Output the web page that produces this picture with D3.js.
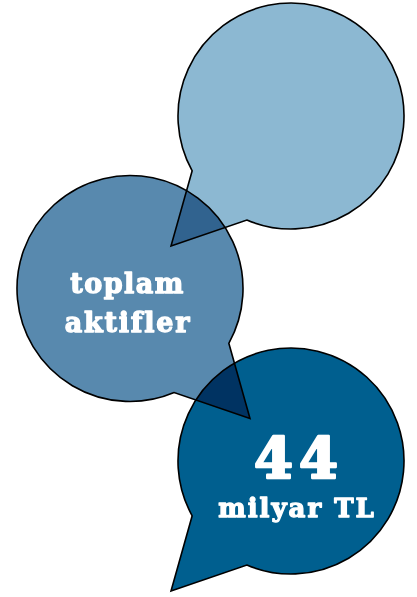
<!DOCTYPE html>
<html>
<head>
<meta charset="utf-8">
<script src="https://cdn.jsdelivr.net/npm/d3@7"></script>
<style>
  body { margin: 0; background: #fff; }
  svg { display: block; }
  .bubble { mix-blend-mode: multiply; }
</style>
</head>
<body>
<div id="chart"></div>
<script>
// data
var bubbleIds = ["b1", "b2", "b3"];
var bubbleSides = ["left", "right", "left"];   // tail direction
var bubbleLines = [[], ["toplam", "aktifler"], ["44", "milyar TL"]];
var colors = ["#8cb8d2", "#5889ae", "#005f8f"];

var width = 417, height = 597;
var radius = 113;

var svg = d3.select("#chart")
    .append("svg")
    .attr("width", width)
    .attr("height", height);

// positions from scales
var y = d3.scaleLinear().domain([0, bubbleIds.length - 1]).range([116, 461]);
var x = d3.scaleOrdinal().domain(["left", "right"]).range([291, 130]);

var rad = Math.PI / 180;

function bubblePath(side) {
    var p = d3.path();
    if (side === "left") {
        p.moveTo(-120, 130);
        p.lineTo(radius * Math.cos(113 * rad), radius * Math.sin(113 * rad));
        p.arc(0, 0, radius, 113 * rad, 151 * rad, true);
    } else {
        p.moveTo(120, 130);
        p.lineTo(radius * Math.cos(67 * rad), radius * Math.sin(67 * rad));
        p.arc(0, 0, radius, 67 * rad, 29 * rad, false);
    }
    p.closePath();
    return p.toString();
}

var g = svg.selectAll("g.b")
    .data(bubbleIds)
    .enter()
    .append("g")
    .attr("class", "bubble")
    .attr("transform", function(d, i) { return "translate(" + x(bubbleSides[i]) + "," + y(i) + ")"; });

g.append("path")
    .attr("d", function(d, i) { return bubblePath(bubbleSides[i]); })
    .attr("fill", function(d, i) { return colors[i]; })
    .attr("stroke", "#000")
    .attr("stroke-width", 1.6)
    .attr("stroke-linejoin", "miter");

// labels (drawn on top, no blending)
var lbl = svg.selectAll("g.lbl")
    .data(bubbleIds)
    .enter()
    .append("g")
    .attr("transform", function(d, i) { return "translate(" + x(bubbleSides[i]) + "," + y(i) + ")"; });

lbl.each(function(d, i) {
    var lines = bubbleLines[i];
    var sel = d3.select(this);
    if (i === 1) {
        sel.append("text").text(lines[0])
            .attr("x", -2.5).attr("y", 4.5)
            .attr("font-size", 27)
            .attr("letter-spacing", 1.5);
        sel.append("text").text(lines[1])
            .attr("x", -2).attr("y", 43.5)
            .attr("font-size", 27)
            .attr("letter-spacing", 1.8);
    } else if (i === 2) {
        sel.append("text").text(lines[0])
            .attr("x", 8).attr("y", 17)
            .attr("font-size", 56)
            .attr("letter-spacing", 6)
            .attr("stroke-width", 2.5);
        sel.append("text").text(lines[1])
            .attr("x", 6).attr("y", 56)
            .attr("font-size", 26)
            .attr("letter-spacing", 2);
    }
});

lbl.selectAll("text")
    .attr("text-anchor", "middle")
    .attr("fill", "#fff")
    .attr("stroke", "#fff")
    .attr("stroke-width", function() { return d3.select(this).attr("stroke-width") || 1.3; })
    .attr("stroke-linejoin", "round")
    .attr("font-family", "'DejaVu Serif', serif")
    .attr("font-weight", "bold");
</script>
</body>
</html>
